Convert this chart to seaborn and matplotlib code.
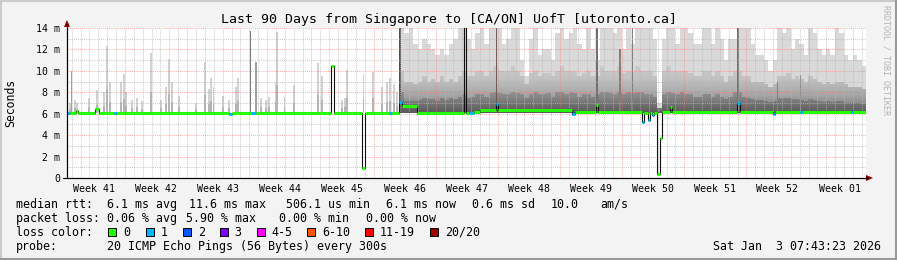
import numpy as np
import pandas as pd
import matplotlib
matplotlib.use("Agg")
import matplotlib.pyplot as plt
import seaborn as sns
from matplotlib.patches import Rectangle, Polygon
from matplotlib.lines import Line2D
from matplotlib.colors import LinearSegmentedColormap

sns.set_theme(style="white")
plt.rcParams['font.family'] = ['DejaVu Sans Mono', 'DejaVu Sans']

# ---------------- data ----------------
title = "Last 90 Days from Singapore to [CA/ON] UofT [utoronto.ca]"
y_label = "Seconds"
y_ticks = [0, 2, 4, 6, 8, 10, 12, 14]
y_tick_labels = ["0", "2 m", "4 m", "6 m", "8 m", "10 m", "12 m", "14 m"]
week_labels = ["Week 41", "Week 42", "Week 43", "Week 44", "Week 45", "Week 46",
               "Week 47", "Week 48", "Week 49", "Week 50", "Week 51", "Week 52", "Week 01"]
first_week_start = 6.53   # day (from left edge) of first Monday 00:00
span_days = 90

# median rtt (ms): change points (day, value, loss level index)
med_day = [0.0, 0.3, 1.0, 1.2, 3.2, 3.6, 5.3, 5.6, 18.3, 18.6, 20.7, 21.3,
           29.75, 30.1, 33.2, 33.55, 36.3, 36.6, 37.45, 37.75, 39.4,
           44.7, 44.95, 45.3, 45.8, 46.5, 48.3, 48.5, 56.9, 57.2, 57.5,
           59.6, 59.8, 64.75, 65.0, 65.4, 65.65, 65.9, 66.1, 66.45, 66.75, 67.0,
           67.9, 68.1, 75.5, 75.8, 79.5, 79.75, 82.6, 82.85, 88.3, 88.55]
med_val = [6.1, 6.1, 6.25, 6.1, 6.4, 6.1, 6.1, 6.1, 6.0, 6.1, 6.1, 6.1,
           10.5, 6.1, 0.9, 6.1, 6.1, 6.1, 7.1, 6.7, 6.1,
           14.5, 6.1, 6.1, 6.2, 6.35, 6.9, 6.35, 6.0, 6.2, 6.15,
           6.8, 6.15, 5.2, 6.1, 5.4, 6.1, 5.9, 6.1, 0.4, 3.7, 6.15,
           6.6, 6.15, 7.0, 6.15, 6.0, 6.15, 6.15, 6.15, 6.15, 6.15]
med_loss = [1, 0, 0, 0, 0, 0, 1, 0, 1, 0, 1, 0,
            0, 0, 0, 0, 1, 0, 1, 0, 0,
            1, 0, 1, 0, 0, 1, 0, 1, 0, 0,
            0, 0, 1, 0, 1, 0, 1, 0, 0, 0, 0,
            0, 0, 1, 0, 1, 0, 1, 0, 1, 0]

# sparse smoke spikes (days 0-37.5): day, top (ms)
spike_day = [0.3, 0.9, 1.15, 2.5, 3.4, 4.2, 4.5, 4.8, 6.1, 6.4, 6.6, 7.3, 7.9, 8.4,
             9.5, 10.55, 11.2, 11.5, 11.8, 12.6, 14.5, 15.5, 16.0, 16.2, 16.5, 17.6,
             18.3, 19.0, 19.3, 21.9, 22.4, 22.8, 23.5, 23.65, 24.5, 25.6, 28.3, 28.7,
             31.0, 31.3, 31.5, 33.4, 34.5, 35.5, 36.0, 36.4, 36.8, 37.2]
spike_top = [7.0, 7.3, 7.0, 7.5, 8.2, 8.0, 12.3, 9.0, 9.0, 9.7, 8.0, 7.3, 7.5, 7.2,
             11.7, 7.3, 8.5, 11.1, 9.0, 7.7, 7.0, 10.8, 8.3, 9.3, 8.5, 7.7,
             7.3, 8.5, 9.3, 7.5, 7.3, 7.6, 9.0, 13.6, 7.6, 8.7, 10.7, 9.5,
             7.3, 7.5, 10.1, 9.7, 9.9, 8.5, 9.0, 9.3, 8.8, 8.0]

# darker single smoke columns: day, top, gray level
col_day = [0.53, 20.65, 21.3, 37.5, 48.4, 59.7, 62.3, 63.7, 75.6, 80.0, 82.6]
col_top = [10.0, 13.7, 10.8, 14.0, 14.0, 14.0, 12.0, 14.0, 14.0, 9.0, 9.6]
col_gray = ["#a0a0a0", "#7a7a7a", "#a0a0a0", "#505050", "#606060", "#707070",
            "#808080", "#808080", "#707070", "#808080", "#808080"]

# dense smoke (days 37.5-90, half-day steps): max / upper mid / dark core tops
dense_start = 37.5
dense_step = 0.5
dense_top = [14, 13.5, 14, 12.5, 12, 13, 12.5, 12, 11.5, 12, 11.5, 12.5, 13, 14, 14,
             13, 12, 13.5, 14, 12.5, 14, 14, 14, 12.5, 13, 14, 14, 11, 9.5, 13,
             14, 11.5, 12, 12, 11, 13.5, 14, 13, 13.5, 14, 12.5, 12, 14, 12, 11,
             14, 14, 14, 13.5, 14, 12, 14, 12.5, 14, 14, 14, 14, 13, 7, 13,
             14, 14, 12.5, 14, 14, 13.5, 12.5, 12.5, 14, 14, 12.5, 14, 13, 11, 13,
             13, 14, 14, 14, 12.5, 11.5, 11.5, 11, 10, 11, 14, 13.5, 14, 12, 13,
             12.5, 11.5, 14, 13.5, 12, 11.5, 12, 11.5, 14, 13.5, 11.5, 11, 11.5, 11, 10.5]
dense_mid = [10, 9, 9, 8.8, 9, 9.5, 9, 9.2, 9, 9.5, 9, 9.2, 9, 9.5, 10,
             9.5, 9.5, 10, 10, 9.5, 10, 10.5, 10, 10, 10, 10.5, 10, 9.5, 8.8, 9.8,
             10, 9.5, 9.8, 9.8, 9.5, 10, 10.5, 10, 10, 10, 9.5, 9.8, 10, 9.5, 9.5,
             10.5, 10, 10, 10, 10.5, 9.8, 10, 10, 10.5, 10, 10, 10, 9.5, 6.5, 10,
             10.5, 10, 10, 10, 10, 9.8, 9.5, 9.5, 10, 10, 9.5, 10, 9.5, 9, 9.5,
             10, 10, 9.5, 9.5, 9, 9, 9, 8.8, 8.5, 8.8, 9.5, 9.5, 9.8, 9.2, 9.5,
             9.2, 9, 9.5, 9.2, 9, 8.8, 9, 8.8, 9, 9, 8.8, 8.5, 8.5, 8.5, 8.3]
dense_dark = [8, 7.2, 7.2, 7.2, 7.3, 7.5, 7.4, 7.4, 7.2, 7.5, 7.3, 7.5, 7.4, 7.6, 7.8,
              7.5, 7.6, 7.8, 7.8, 7.6, 7.9, 8, 7.9, 7.8, 7.8, 8, 7.9, 7.8, 7.5, 7.8,
              8, 7.8, 7.8, 7.9, 7.6, 8, 8, 7.8, 8, 7.9, 7.6, 7.8, 7.8, 7.6, 7.8,
              8, 8, 7.9, 7.8, 8, 7.8, 8, 7.9, 8, 8, 7.8, 7.8, 7.6, 6.3, 7.8,
              8, 7.9, 7.8, 8, 7.8, 7.8, 7.6, 7.6, 7.8, 7.8, 7.6, 7.8, 7.6, 7.4, 7.6,
              8, 8, 7.6, 7.5, 7.4, 7.3, 7.3, 7.2, 7.1, 7.2, 7.5, 7.5, 7.5, 7.4, 7.4,
              7.3, 7.2, 7.4, 7.3, 7.2, 7.1, 7.2, 7.1, 7.2, 7.2, 7.0, 7.0, 7.0, 7.0, 6.9]
smoke_floor = 6.1

loss_labels = ["0", "1", "2", "3", "4-5", "6-10", "11-19", "20/20"]
loss_colors = ["#26ff00", "#00b8ff", "#0059ff", "#7e00ff", "#ff00ff", "#ff5500", "#ff0000", "#a10000"]

stats_rows = [
    [("median rtt:", 16), ("6.1 ms avg", 107.3), ("11.6 ms max", 189), ("506.1 us min", 286),
     ("6.1 ms now", 386), ("0.6 ms sd", 472.3), ("10.0", 551), ("am/s", 600.7)],
    [("packet loss:", 16), ("0.06 % avg", 107.3), ("5.90 % max", 185.7),
     ("0.00 % min", 279.3), ("0.00 % now", 365.7)],
]
probe_text = "20 ICMP Echo Pings (56 Bytes) every 300s"
date_text = "Sat Jan  3 07:43:23 2026"
credit_text = "RRDTOOL / TOBI OETIKER"

# ---------------- figure ----------------
W, H = 897, 260
fig = plt.figure(figsize=(W / 100, H / 100), dpi=100, facecolor="#f3f3f3")
def fx(x): return x / W
def fy(y): return 1 - y / H

ax = fig.add_axes([fx(67), fy(178), (866 - 67) / W, 150 / H])
ax.set_facecolor("white")

# dense smoke: light outer layer, gradient middle layer, darker core overlay
dx = dense_start + dense_step * np.arange(len(dense_top))
dx_e = np.append(dx, span_days)
top_e = np.append(np.array(dense_top, float), dense_top[-1])
mid_e = np.append(np.array(dense_mid, float), dense_mid[-1])
dark_e = np.append(np.array(dense_dark, float), dense_dark[-1])
ax.fill_between(dx_e, smoke_floor, top_e, step="post", color="#d9d9d9", lw=0, zorder=1)
mid_poly = ax.fill_between(dx_e, smoke_floor, mid_e, step="post", color="none", lw=0, zorder=1.1)
smoke_cmap = LinearSegmentedColormap.from_list(
    "smoke", [(0.0, "#6a6a6a"), (0.35, "#a4a4a4"), (0.7, "#c2c2c2"), (1.0, "#cdcdcd")])
grad = np.linspace(0, 1, 256).reshape(-1, 1)
img = ax.imshow(grad, extent=[dense_start, span_days, smoke_floor, 10.6], origin="lower",
                aspect="auto", cmap=smoke_cmap, zorder=1.1, interpolation="bilinear")
img.set_clip_path(mid_poly.get_paths()[0], ax.transData)
ax.fill_between(dx_e, smoke_floor, dark_e, step="post", color="#000000", alpha=0.16, lw=0, zorder=1.2)

# sparse spikes
st = np.array(spike_top, float)
ax.bar(spike_day, st - smoke_floor, bottom=smoke_floor, width=0.22, color="#d2d2d2",
       lw=0, zorder=1.2)
ax.bar(spike_day, (st - smoke_floor) * 0.35, bottom=smoke_floor, width=0.22, color="#b4b4b4",
       lw=0, zorder=1.3)
ct = np.array(col_top, float)
ax.bar(col_day, ct - smoke_floor, bottom=smoke_floor, width=0.16, color=col_gray, lw=0, zorder=1.5)

ax.set_xlim(0, span_days)
ax.set_ylim(0, 14)

# grid (drawn over smoke as in rrdtool)
minor_col = (0.72, 0.72, 0.72, 0.7)
major_col = (1.0, 0.45, 0.45, 0.55)
dash = (0, (1, 1))
for d in np.arange(first_week_start - 6, span_days, 1.0):
    if d <= 0:
        continue
    k = (d - first_week_start) / 7.0
    is_week = abs(k - round(k)) < 1e-6
    ax.axvline(d, color=major_col if is_week else minor_col, lw=0.75, ls=dash, zorder=2)
for v in range(1, 15):
    ax.axhline(v, color=major_col if v % 2 == 0 else minor_col, lw=0.75, ls=dash, zorder=2)

# median line (black) + loss coloured band
md = list(med_day) + [span_days]
mv = list(med_val) + [med_val[-1]]
df = pd.DataFrame({"day": md, "rtt": mv})
sns.lineplot(data=df, x="day", y="rtt", ax=ax, color="#101010", lw=0.8,
             drawstyle="steps-post", estimator=None, sort=False, legend=False, zorder=3)
ax.hlines(med_val, med_day, md[1:], colors=[loss_colors[i] for i in med_loss],
          lw=2.2, zorder=4)

# axes / ticks
for s in ["top", "right"]:
    ax.spines[s].set_visible(False)
for s in ["left", "bottom"]:
    ax.spines[s].set_color("#000000")
    ax.spines[s].set_linewidth(0.8)
ax.set_yticks(y_ticks)
ax.set_yticklabels(y_tick_labels, fontsize=7.1)
ax.set_yticks(np.arange(1, 14, 2), minor=True)
week_centers = first_week_start - 3.5 + 7 * np.arange(len(week_labels))
ax.set_xticks(week_centers)
ax.set_xticklabels(week_labels, fontsize=7.1)
ax.set_xticks(np.arange(first_week_start - 6, span_days, 1.0)[1:], minor=True)
ax.tick_params(axis="y", which="both", length=2, width=0.7, color="#404040", pad=3, direction="out")
ax.tick_params(axis="x", which="major", length=0, pad=4)
ax.tick_params(axis="x", which="minor", length=2, width=0.7, color="#404040", direction="out")
ax.set_xlabel("")
ax.set_ylabel("")
for lab in ax.get_xticklabels() + ax.get_yticklabels():
    lab.set_color("black")

# axis extensions and arrows
fig.add_artist(Line2D([fx(67), fx(67)], [fy(178), fy(24)], color="#000000", lw=0.8))
fig.add_artist(Line2D([fx(63), fx(868)], [fy(178), fy(178)], color="#000000", lw=0.8))
fig.add_artist(Polygon([[fx(64), fy(27)], [fx(70), fy(27)], [fx(67), fy(20)]],
                       closed=True, color="#8b0000", lw=0))
fig.add_artist(Polygon([[fx(866), fy(175)], [fx(866), fy(181)], [fx(873), fy(178)]],
                       closed=True, color="#8b0000", lw=0))

# texts
fig.text(0.5, fy(19), title, ha="center", va="center", fontsize=9.5, color="black")
fig.text(fx(11), fy(103), y_label, rotation=90, ha="center", va="center", fontsize=8.3, color="black")
fig.text(fx(886), fy(5), credit_text, rotation=270, ha="center", va="top", fontsize=6.0, color="#b4b4b4")

row_y = [204.3, 218.3, 232.3, 246.3]
for r, row in enumerate(stats_rows):
    for txt, x in row:
        fig.text(fx(x), fy(row_y[r]), txt, ha="left", va="center", fontsize=8.4, color="black")
fig.text(fx(16), fy(row_y[2]), "loss color:", ha="left", va="center", fontsize=8.4, color="black")
box_x = [108.3, 145.7, 182.7, 219.7, 256.7, 307, 365, 430]
for bx, lab, col in zip(box_x, loss_labels, loss_colors):
    fig.add_artist(Rectangle((fx(bx), fy(row_y[2] + 4)), 8 / W, 8 / H, facecolor=col,
                             edgecolor="black", lw=0.7))
    fig.text(fx(bx + 15), fy(row_y[2]), lab, ha="left", va="center", fontsize=8.4, color="black")
fig.text(fx(16), fy(row_y[3]), "probe:", ha="left", va="center", fontsize=8.4, color="black")
fig.text(fx(107.3), fy(row_y[3]), probe_text, ha="left", va="center", fontsize=8.4, color="black")
fig.text(fx(881), fy(row_y[3]), date_text, ha="right", va="center", fontsize=8.4, color="black")

# 3D frame
fig.add_artist(Line2D([0, 1], [fy(0.5), fy(0.5)], color="#cbcbcb", lw=1.5))
fig.add_artist(Line2D([fx(0.5), fx(0.5)], [0, 1], color="#cbcbcb", lw=1.5))
fig.add_artist(Line2D([0, 1], [fy(259), fy(259)], color="#999999", lw=1.5))
fig.add_artist(Line2D([fx(896), fx(896)], [0, 1], color="#999999", lw=1.5))

fig.savefig("out.png", dpi=100, facecolor=fig.get_facecolor())
